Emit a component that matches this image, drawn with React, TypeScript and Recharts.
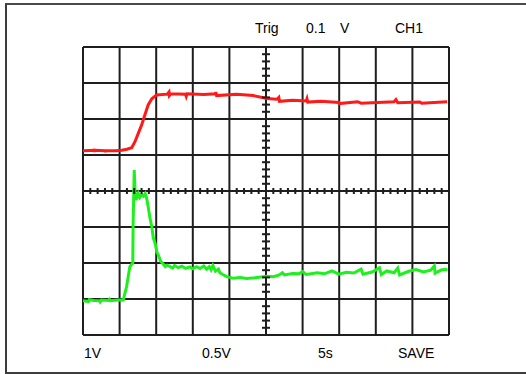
import {
  CartesianGrid,
  ComposedChart,
  Line,
  Scatter,
  XAxis,
  YAxis,
} from 'recharts';

// scope screen: 10 x 8 divisions, values read in divisions (y from bottom)
const xDivs = [0, 1, 2, 3, 4, 5, 6, 7, 8, 9, 10];
const yDivs = [0, 1, 2, 3, 4, 5, 6, 7, 8];

// CH1 (red) trace
const redX = [
  0, 0.3, 0.31, 0.32, 0.6, 0.61, 0.62, 0.9, 1.06, 1.2, 1.33, 1.42, 1.51, 1.6, 1.69, 1.78, 1.88, 2.01,
  2.3, 2.35, 2.36, 2.4, 2.8, 2.82, 2.84, 3.3, 3.62, 3.63, 3.65, 4.2, 4.65, 5.02, 5.3, 5.35, 5.37, 5.73,
  6.1, 6.12, 6.14, 6.5, 6.99, 7.0, 7.5, 7.6, 8.5, 8.55, 8.6, 9.2, 9.25, 9.95,
];
const redY = [
  5.12, 5.13, 5.09, 5.13, 5.12, 5.08, 5.12, 5.12, 5.13, 5.16, 5.2, 5.37, 5.6, 5.83, 6.11, 6.39, 6.56, 6.67,
  6.69, 6.75, 6.65, 6.7, 6.69, 6.63, 6.7, 6.68, 6.7, 6.75, 6.65, 6.69, 6.65, 6.57, 6.55, 6.6, 6.49, 6.52,
  6.5, 6.56, 6.47, 6.49, 6.46, 6.43, 6.48, 6.44, 6.48, 6.54, 6.45, 6.47, 6.44, 6.48,
];

// CH2 (green) trace
const greenX = [
  0, 0.15, 0.17, 0.3, 0.45, 0.47, 0.5, 0.7, 0.72, 0.75, 0.95, 1.1, 1.19, 1.28, 1.36, 1.37, 1.4, 1.43,
  1.45, 1.48, 1.51, 1.55, 1.6, 1.65, 1.7, 1.74, 1.78, 1.83, 1.88, 1.92, 1.97, 2.02, 2.06, 2.12, 2.19,
  2.25, 2.3, 2.38, 2.45, 2.5, 2.6, 2.7, 2.8, 2.92, 3.0, 3.1, 3.2, 3.3, 3.38, 3.45, 3.5, 3.55, 3.62, 3.7,
  3.74, 3.82, 3.93, 4.1, 4.3, 4.47, 4.7, 5.02, 5.2, 5.35, 5.45, 5.5, 5.73, 5.9, 6.0, 6.1, 6.4, 6.6, 6.8,
  6.99, 7.2, 7.4, 7.6, 7.65, 7.9, 8.1, 8.15, 8.3, 8.5, 8.6, 8.65, 8.9, 9.1, 9.3, 9.5, 9.6, 9.62, 9.8, 9.96,
];
const greenY = [
  0.95, 0.93, 0.98, 0.96, 0.95, 0.92, 0.97, 0.96, 0.99, 0.95, 0.97, 0.97, 1.34, 1.9, 2.0, 3.1, 4.58, 3.75,
  3.95, 3.84, 3.93, 3.82, 3.9, 3.86, 3.93, 3.8, 3.56, 3.25, 3.01, 2.7, 2.55, 2.3, 2.22, 2.05, 1.97,
  1.9, 1.94, 1.9, 1.86, 1.93, 1.87, 1.91, 1.85, 1.89, 1.84, 1.9, 1.85, 1.92, 1.83, 1.9, 1.81, 1.93, 1.77, 1.83,
  1.73, 1.68, 1.62, 1.58, 1.6, 1.57, 1.59, 1.63, 1.62, 1.66, 1.73, 1.67, 1.71, 1.7, 1.76, 1.68, 1.73, 1.7, 1.78,
  1.69, 1.74, 1.72, 1.83, 1.69, 1.75, 1.87, 1.68, 1.78, 1.73, 1.86, 1.67, 1.77, 1.82, 1.75, 1.8, 1.92, 1.72, 1.81, 1.82,
];

const topLabels = ['Trig', '0.1', 'V', 'CH1'];
const bottomLabels = ['1V', '0.5V', '5s', 'SAVE'];

const red = redX.map((x, i) => ({ x, y: redY[i] }));
const green = greenX.map((x, i) => ({ x, y: greenY[i] }));

// minor graticule marks on the centre cross, every 0.2 div
const minorH: { x: number; y: number }[] = [];
for (let i = 1; i < 50; i++) if (i % 5) minorH.push({ x: i / 5, y: 4 });
const minorV: { x: number; y: number }[] = [];
for (let i = 1; i < 40; i++) if (i % 5) minorV.push({ x: 5, y: i / 5 });

const ink = '#1e1e1e';

const TickH = (p: any) => (
  <line x1={p.cx} x2={p.cx} y1={p.cy - 3} y2={p.cy + 3} stroke={ink} strokeWidth={2} />
);
const TickV = (p: any) => (
  <line x1={p.cx - 4} x2={p.cx + 4} y1={p.cy} y2={p.cy} stroke={ink} strokeWidth={2} />
);

const topX = [255, 306, 340, 395];
const bottomX = [84, 202, 318, 398];

const labelStyle: React.CSSProperties = {
  position: 'absolute',
  fontFamily: '"Liberation Sans", Arial, sans-serif',
  fontSize: 14,
  lineHeight: '14px',
  color: '#000',
  whiteSpace: 'nowrap',
};

export default function App() {
  return (
    <div style={{ position: 'absolute', left: 0, top: 0, width: 526, height: 374, overflow: 'hidden', background: '#fff' }}>
      <div
        style={{
          position: 'absolute',
          left: 5,
          top: 3,
          width: 540,
          height: 367,
          borderLeft: '2px solid #3c3c3c',
          borderTop: '2px solid #4a4a4a',
          borderBottom: '2px solid #3c3c3c',
        }}
      />
      <div style={{ position: 'absolute', left: 0, top: 0 }}>
        <ComposedChart width={526} height={374} margin={{ top: 47, right: 77, bottom: 39, left: 83 }}>
          <CartesianGrid stroke={ink} strokeWidth={2} horizontal vertical />
          <XAxis type="number" dataKey="x" domain={[0, 10]} ticks={xDivs} allowDataOverflow hide />
          <YAxis type="number" dataKey="y" domain={[0, 8]} ticks={yDivs} allowDataOverflow hide width={0} />
          <Scatter data={minorH} shape={TickH} isAnimationActive={false} />
          <Scatter data={minorV} shape={TickV} isAnimationActive={false} />
          <Line data={red} dataKey="y" type="linear" stroke="#ff1a1a" strokeWidth={3} dot={false} isAnimationActive={false} />
          <Line data={green} dataKey="y" type="linear" stroke="#1ef01e" strokeWidth={3} dot={false} isAnimationActive={false} />
        </ComposedChart>
      </div>
      {topLabels.map((t, i) => (
        <div key={t} style={{ ...labelStyle, left: topX[i], top: 21 }}>{t}</div>
      ))}
      {bottomLabels.map((t, i) => (
        <div key={t} style={{ ...labelStyle, left: bottomX[i], top: 346 }}>{t}</div>
      ))}
    </div>
  );
}
